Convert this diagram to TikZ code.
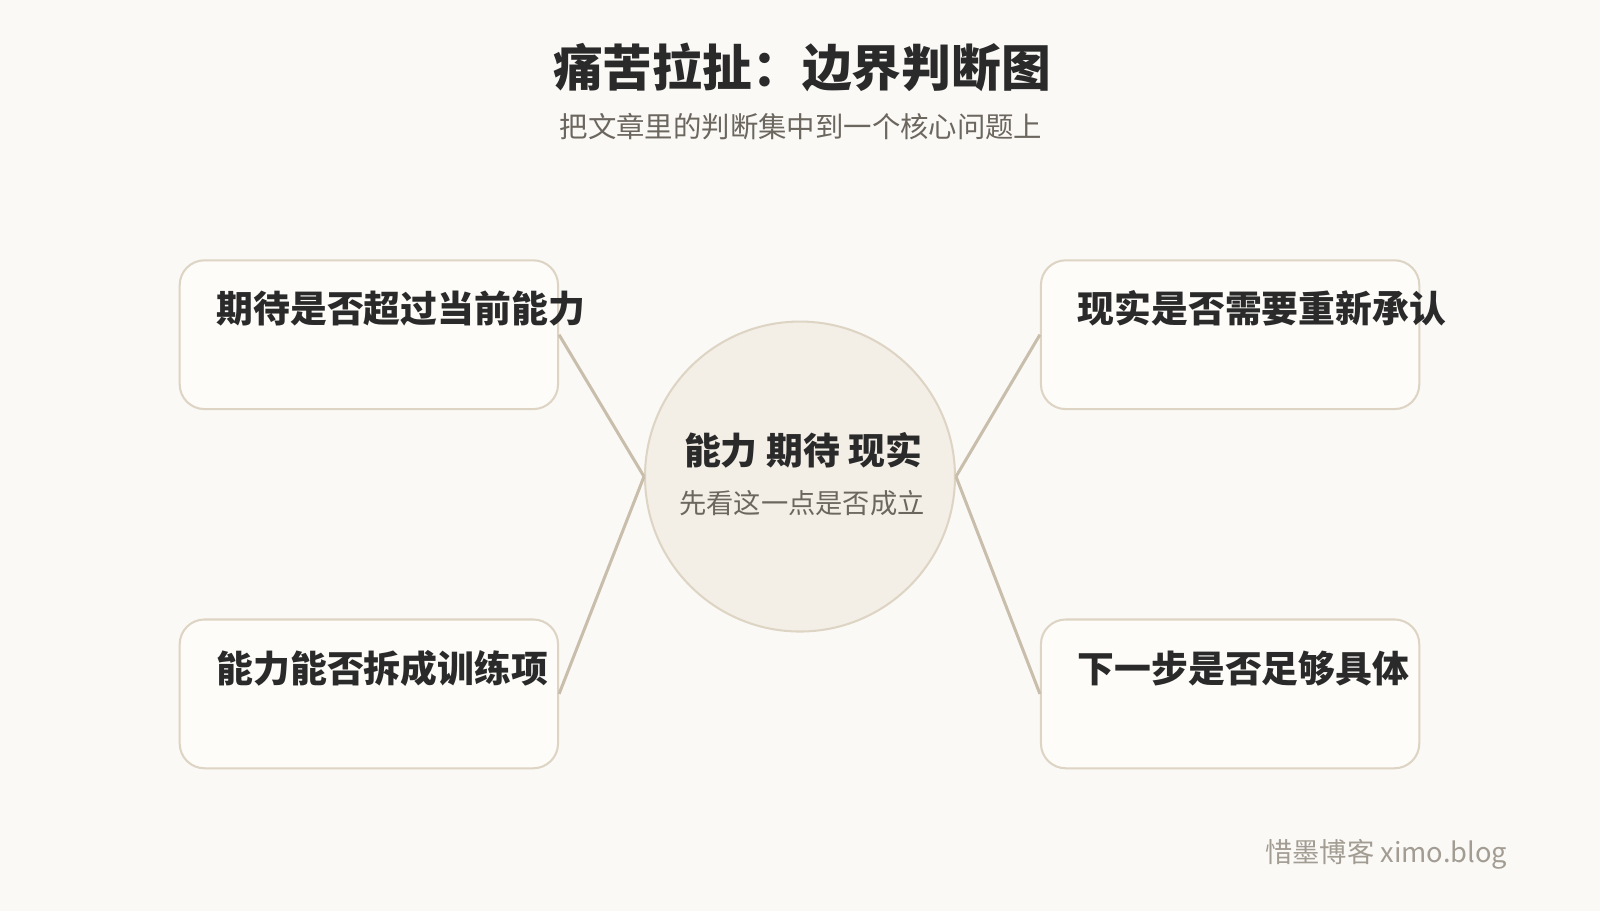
\documentclass[tikz,border=0pt]{standalone}
\usepackage{fontspec}
\setmainfont{Noto Sans CJK SC}
\usepackage{tikz}

\definecolor{paper}{HTML}{FAF9F6}
\definecolor{boxfill}{HTML}{FDFCF9}
\definecolor{boxline}{HTML}{DDD4C4}
\definecolor{hubfill}{HTML}{F3EFE7}
\definecolor{edgeline}{HTML}{C9BEAB}
\definecolor{ink}{HTML}{2A2A2A}
\definecolor{subink}{HTML}{6B665E}
\definecolor{markink}{HTML}{A29C92}

\begin{document}
\begin{tikzpicture}[x=0.02551cm, y=-0.02551cm,
		box_style/.style={rectangle, rounded corners=0.62cm, draw=boxline, line width=1.45pt, fill=boxfill, minimum width=9.46cm, minimum height=3.72cm, inner sep=0pt},
		hub_style/.style={circle, draw=boxline, line width=1.45pt, fill=hubfill, minimum size=7.75cm, inner sep=0pt},
		label_style/.style={anchor=west, inner sep=0pt, text=ink, font=\bfseries\fontsize{26.2}{31}\selectfont},
		edge_style/.style={draw=edgeline, line width=2.15pt}]

		% page
		\fill[paper] (0,0) rectangle (1568,892.8);

		% title
		\node[text=ink, font=\bfseries\fontsize{35.4}{42}\selectfont] (title) at (786,66) {痛苦拉扯：边界判断图};
		\node[text=subink, font=\fontsize{20.2}{24}\selectfont] (subtitle) at (785,124) {把文章里的判断集中到一个核心问题上};

		% boxes
		\node[box_style] (b1) at (361.5,328) {};
		\node[box_style] (b2) at (361.5,680) {};
		\node[box_style] (b3) at (1205.5,328) {};
		\node[box_style] (b4) at (1205.5,680) {};

		\node[hub_style] (hub) at (784,467) {};

		\draw[edge_style] (b1.east) -- (hub.west);
		\draw[edge_style] (b2.east) -- (hub.west);
		\draw[edge_style] (b3.west) -- (hub.east);
		\draw[edge_style] (b4.west) -- (hub.east);

		% box texts
		\node[label_style] (t1) at (212,302) {期待是否超过当前能力};
		\node[label_style] (t2) at (212,655) {能力能否拆成训练项};
		\node[label_style] (t3) at (1056,302) {现实是否需要重新承认};
		\node[label_style] (t4) at (1056,655) {下一步是否足够具体};

		% hub texts
		\node[text=ink, font=\bfseries\fontsize{26.2}{31}\selectfont] (hubtitle) at (787,441) {能力 期待 现实};
		\node[text=subink, font=\fontsize{19.4}{23}\selectfont] (hubsub) at (786,493) {先看这一点是否成立};

		% mark
		\node[anchor=east, text=markink, font=\fontsize{19.4}{23}\selectfont] (mark) at (1482,837) {惜墨博客 ximo.blog};
		\end{tikzpicture}
\end{document}
